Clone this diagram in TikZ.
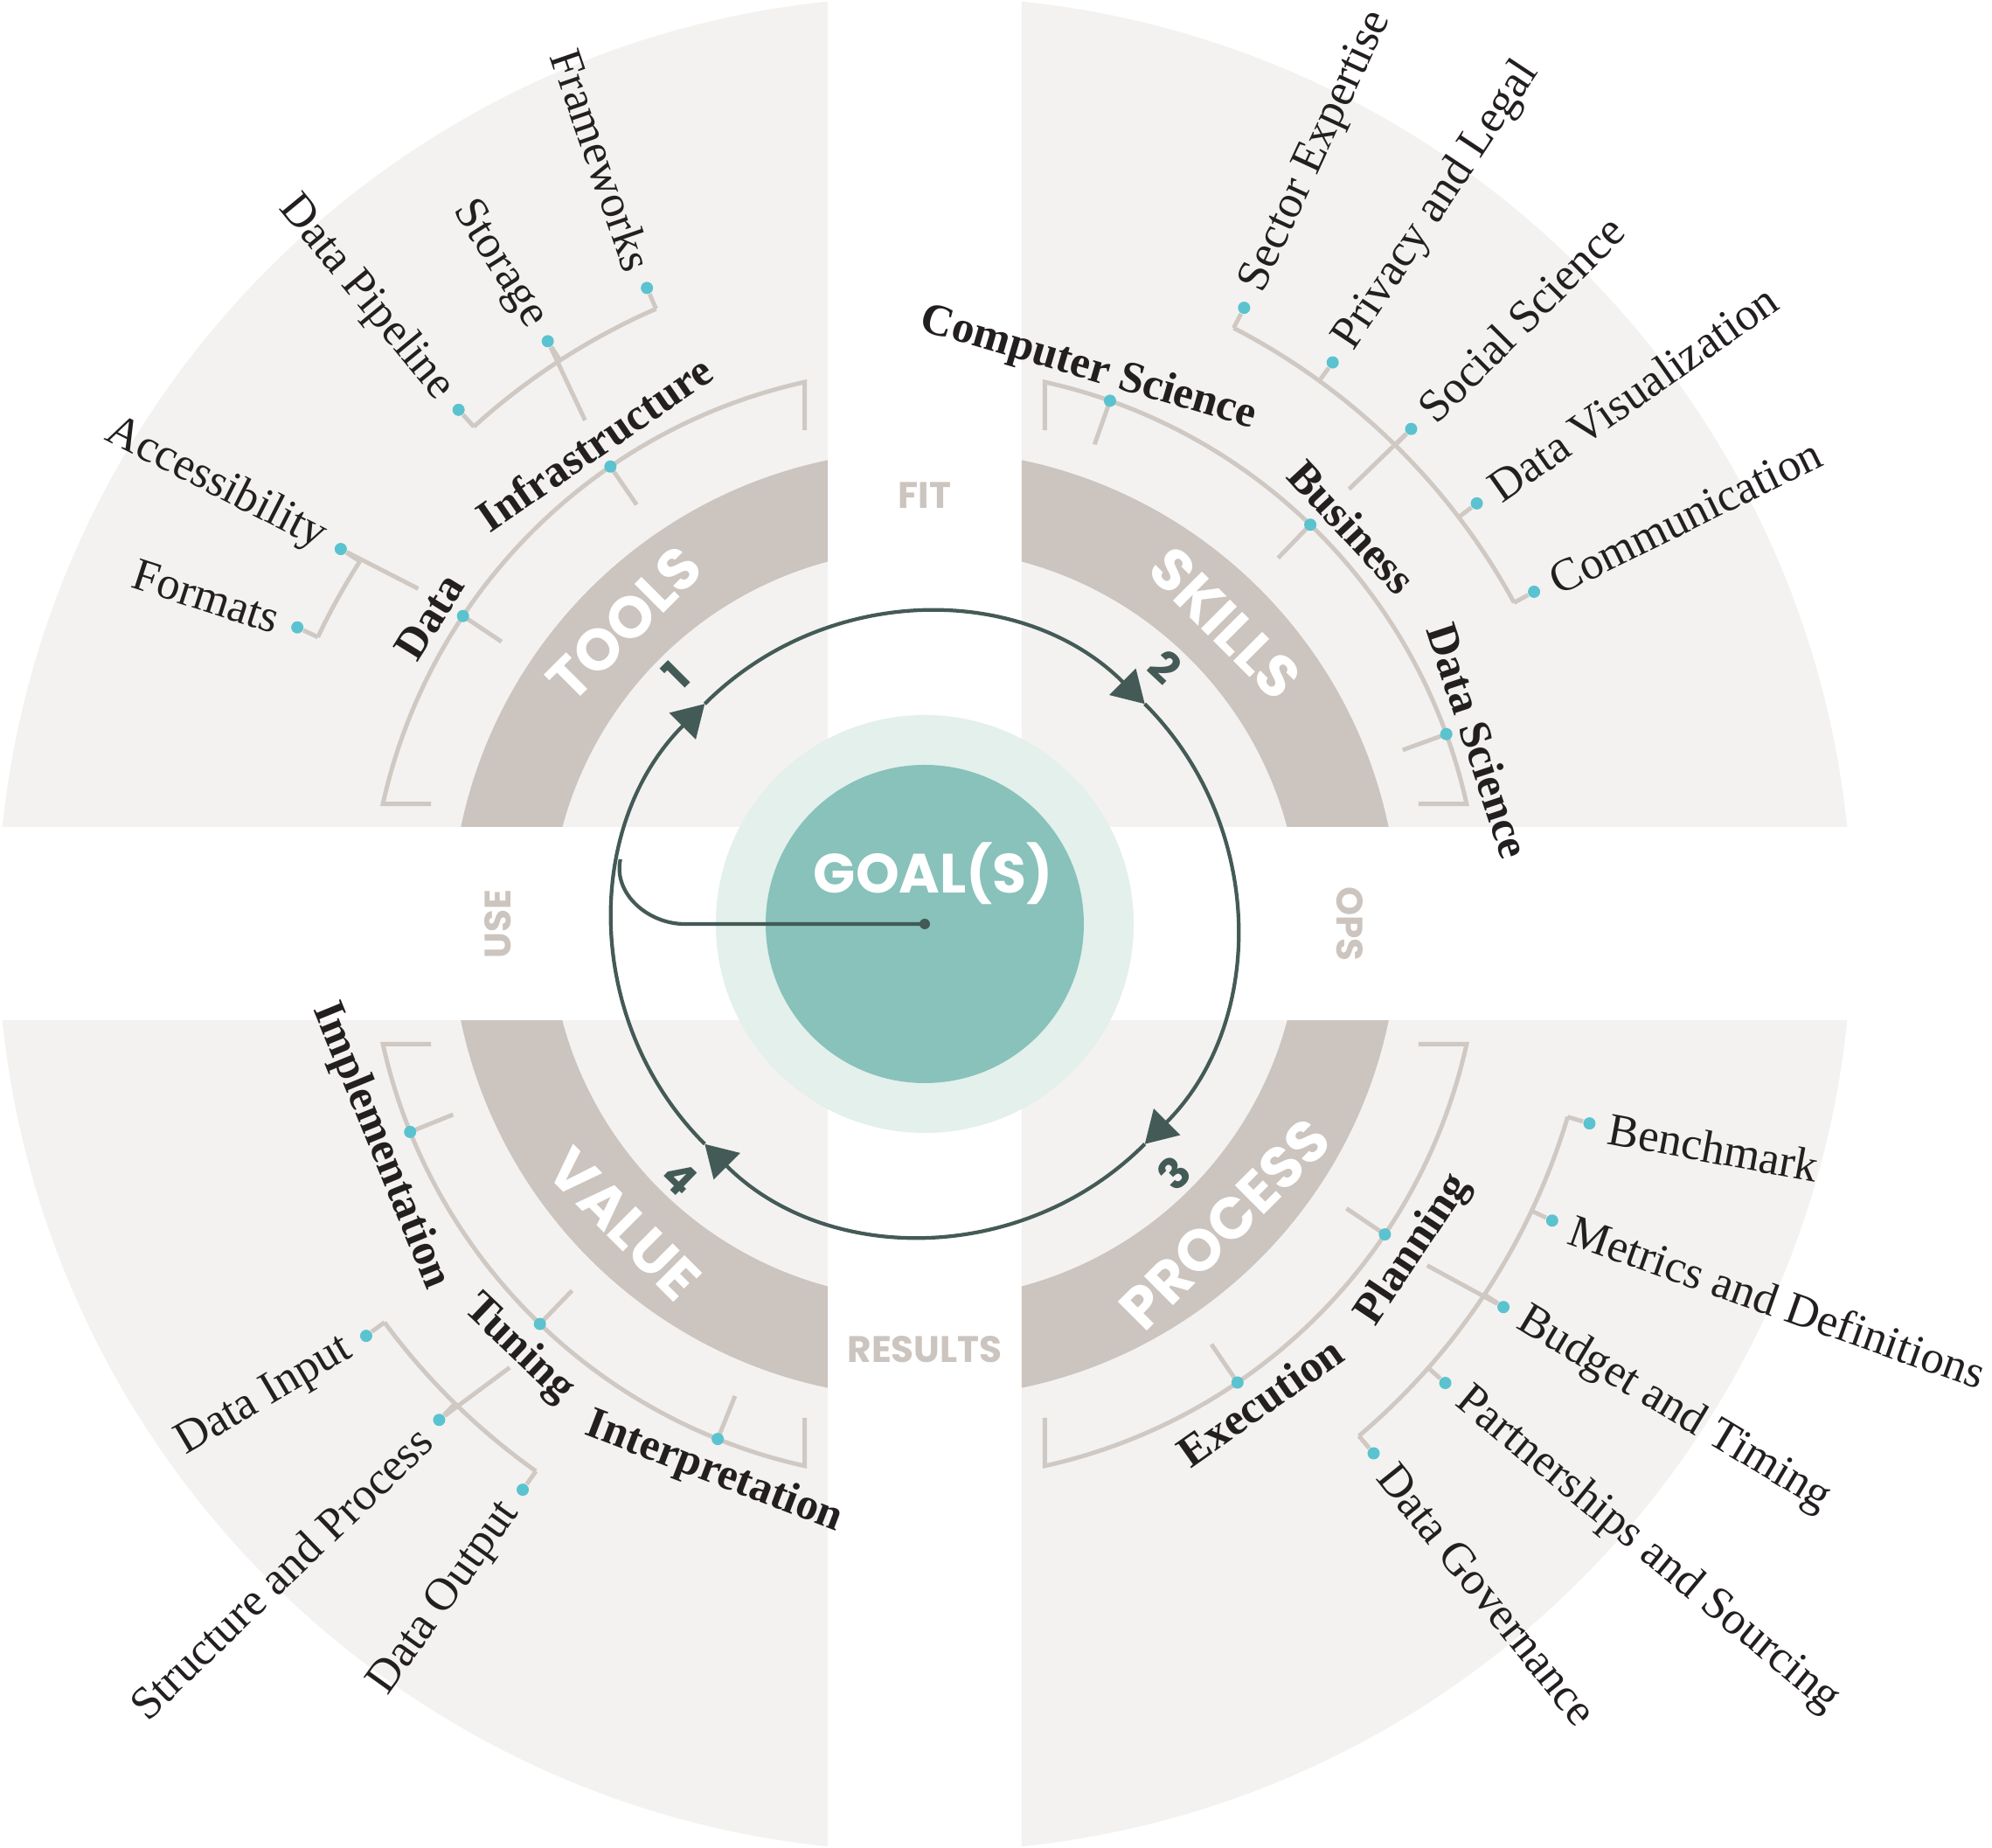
\documentclass[tikz,border=0pt]{standalone}
\usepackage{fontspec}
\setmainfont{Liberation Serif}
\newfontfamily\headfont{Poppins}
\usepackage{tikz}
\usetikzlibrary{arrows.meta,calc}
\definecolor{field}{HTML}{F3F2F0}
\definecolor{band}{HTML}{CCC4BE}
\definecolor{twig}{HTML}{D0C8C2}
\definecolor{bead}{HTML}{5BC3CF}
\definecolor{loopgreen}{HTML}{445A56}
\definecolor{goaldark}{HTML}{88C2BA}
\definecolor{goallight}{HTML}{E3F0EC}
\definecolor{ink}{HTML}{231F20}

\begin{document}
\begin{tikzpicture}[
    twig/.style={draw=twig, line width=1.4pt},
    bead/.style={circle, fill=bead, inner sep=0pt, minimum size=1.4mm},
    leaf/.style={text=ink, font=\fontsize{15}{18}\selectfont},
    branch/.style={text=ink, font=\bfseries\fontsize{14.5}{17}\selectfont, anchor=base},
    bandlabel/.style={text=white, font=\headfont\bfseries\fontsize{19}{22}\selectfont},
    gaplabel/.style={text=band, font=\headfont\bfseries\fontsize{12}{14}\selectfont},
    steplabel/.style={text=loopgreen, font=\headfont\bfseries\fontsize{14}{16}\selectfont},
    looparc/.style={draw=loopgreen, line width=1.2pt, -{Triangle[length=3.6mm,width=4.2mm]}}
  ]
  \useasboundingbox (-10.58,-10.57) rectangle (12.21,10.57);
  \fill[white] (-10.58,-10.57) rectangle (12.21,10.57);

  % four quadrants with their bands
  \foreach \sx/\sy in {-1/1,1/1,1/-1,-1/-1} {
    \begin{scope}
      \clip (\sx*1.11,\sy*1.11) rectangle (\sx*11,\sy*11);
      \fill[field] (0,0) circle (10.61);
      \fill[band,even odd rule] (0,0) circle (5.42) circle (4.29);
    \end{scope}
  }

  % goal
  \node[circle, fill=goallight, minimum size=4.78cm, inner sep=0pt] (halo) at (0,0) {};
  \node[circle, fill=goaldark, minimum size=3.64cm, inner sep=0pt] (goal) at (0,0) {};
  \node[text=white, font=\headfont\bfseries\fontsize{18}{20}\selectfont] (goaltext) at (0.10,0.58) {GOAL(S)};

  % cycle
  \foreach \a/\b in {225/135,135/45,45/-45,-45/-135}
    \draw[looparc] (\a:3.56) arc[start angle=\a, end angle=\b, radius=3.56];
  \draw[loopgreen, line width=1.2pt] (goal.center) -- (180:2.75) to[out=180,in=-102] (168:3.56);
  \fill[loopgreen] (goal.center) circle (0.06);
  \node[steplabel, rotate=45] (s1) at (135:4.03) {1};
  \node[steplabel, rotate=-43] (s2) at (47:4.03) {2};
  \node[steplabel, rotate=45] (s3) at (-45:4.03) {3};
  \node[steplabel, rotate=-44] (s4) at (-134:4.03) {4};

  % band and gap labels
  \node[bandlabel, rotate=45] (tools) at (135:4.86) {TOOLS};
  \node[bandlabel, rotate=-45] (skills) at (45:4.86) {SKILLS};
  \node[bandlabel, rotate=45] (process) at (-45:4.86) {PROCESS};
  \node[bandlabel, rotate=-45] (value) at (-135:4.86) {VALUE};
  \node[gaplabel] (fit) at (90:4.9) {FIT};
  \node[gaplabel, rotate=-90] (ops) at (0:4.86) {OPS};
  \node[gaplabel] (results) at (-90:4.87) {RESULTS};
  \node[gaplabel, rotate=90] (use) at (180:4.88) {USE};

  % inner brackets
  \foreach \s/\e/\ux/\uy/\vx/\vy in {167.5/102.5/0.55/0/0/-0.55, 77.5/12.5/0/-0.55/-0.55/0,
      -12.5/-77.5/-0.55/0/0/0.55, 192.5/257.5/0.55/0/0/0.55}
    \draw[twig] ($(\s:6.35)+(\ux,\uy)$) -- (\s:6.35) arc[start angle=\s, end angle=\e, radius=6.35] -- ++(\vx,\vy);

  \foreach \a/\n in {146.3/data, 124.5/infra, 70.5/compsci, 46/business, 20/datasci,
      -34/planning, -55.7/execution, 202/implement, 226.1/tuning, 248.1/interpret} {
    \draw[twig] (\a:6.35) -- (\a:5.82);
    \node[bead] (\n) at (\a:6.35) {};
  }

  % branch labels
  \node[branch, rotate=58.2] (data-l) at (148.2:6.5) {Data};
  \node[branch, rotate=34.5] (infra-l) at (124.5:6.5) {Infrastructure};
  \node[branch, rotate=-16.4] (compsci-l) at (73.6:6.5) {Computer Science};
  \node[branch, rotate=-47.1] (business-l) at (42.9:6.5) {Business};
  \node[branch, rotate=-71.7] (datasci-l) at (18.3:6.5) {Data Science};
  \node[branch, rotate=56.3] (planning-l) at (-33.7:6.85) {Planning};
  \node[branch, rotate=35.1] (execution-l) at (-54.9:6.85) {Execution};
  \node[branch, rotate=-67.8] (implement-l) at (202.2:6.85) {Implementation};
  \node[branch, rotate=-43.7] (tuning-l) at (226.3:6.85) {Tuning};
  \node[branch, rotate=-21] (interpret-l) at (249:6.85) {Interpretation};

  % outer brackets, left side
  \draw[twig] (147.3:7.68) arc[start angle=147.3, end angle=154.7, radius=7.68];
  \draw[twig] (132.2:7.68) arc[start angle=132.2, end angle=113.6, radius=7.68];
  \draw[twig] (216.4:7.68) arc[start angle=216.4, end angle=234.6, radius=7.68];
  \foreach \a/\r/\n/\t in {147.3/-27/access/Accessibility, 154.7/-18/formats/Formats,
      132.2/-50.5/pipeline/Data Pipeline, 122.9/-57.7/storage/Storage, 113.6/-71/frameworks/Frameworks,
      216.4/30.5/input/Data Input, 225.6/43.9/structure/Structure and Process, 234.6/54.4/output/Data Output} {
    \node[bead] (\n) at (\a:7.94) {};
    \draw[twig] (\a:7.68) -- (\n);
    \node[leaf, rotate=\r, anchor=east] (\n-l) at (\a:8.05) {\t};
  }

  % outer brackets, right side
  \draw[twig] (62.6:7.68) arc[start angle=62.6, end angle=28.6, radius=7.68];
  \draw[twig] (-16.7:7.68) arc[start angle=-16.7, end angle=-49.7, radius=7.68];
  \foreach \a/\r/\n/\t in {62.6/65.2/sector/Sector Expertise, 54/56.5/privacy/Privacy and Legal,
      45.5/45/social/Social Science, 37.3/35.1/dataviz/Data Visualization, 28.6/26.2/comm/Communication,
      -16.7/-10.5/bench/Benchmark, -25.3/-19.5/metrics/Metrics and Definitions, -33.5/-31/budget/Budget and Timing,
      -41.4/-39.6/partner/Partnerships and Sourcing, -49.7/-51.2/govern/Data Governance} {
    \node[bead] (\n) at (\a:7.94) {};
    \draw[twig] (\a:7.68) -- (\n);
    \node[leaf, rotate=\r, anchor=west] (\n-l) at (\a:8.05) {\t};
  }

  % stems
  \draw[twig] (146.5:6.95) -- (access);
  \draw[twig] (124:6.95) -- (storage);
  \draw[twig] (45.7:6.95) -- (social);
  \draw[twig] (-34.2:6.95) -- (budget);
  \draw[twig] (226.9:6.95) -- (structure);
\end{tikzpicture}
\end{document}
